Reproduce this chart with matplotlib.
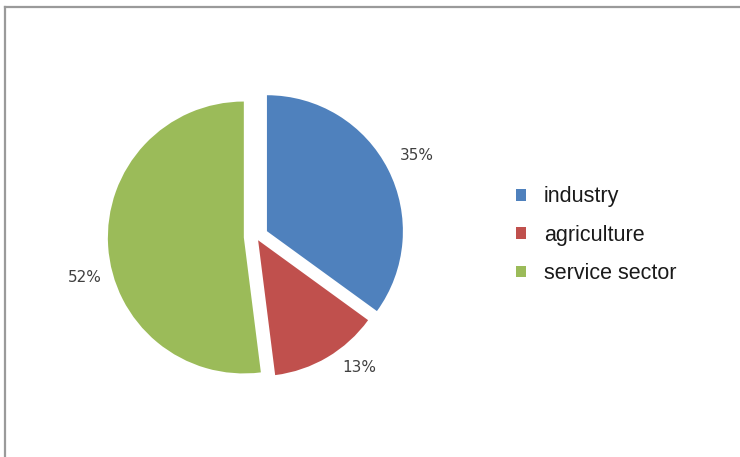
import matplotlib
matplotlib.use("Agg")
import matplotlib.pyplot as plt
from matplotlib.lines import Line2D

# ── Data ────────────────────────────────────────────────────────────────────
SECTORS = ["industry", "agriculture", "service sector"]
SHARES = [35, 13, 52]
COLORS = ["#4F81BD", "#C0504D", "#9BBB59"]
EXPLODE = [0.09, 0.03, 0.09]

# label placement (data units, pie radius = 1)
LABEL_POS = [(1.18, 0.60), (0.76, -0.96), (-1.26, -0.30)]

plt.rcParams["font.family"] = ["Liberation Sans", "DejaVu Sans"]

fig = plt.figure(figsize=(7.4, 4.57), dpi=100)
# axes sized so one data unit ~ 136 px, pie centred near (256, 237) px
ax = fig.add_axes([0.1035, 0.089, 0.485, 0.786])

wedges, _, pcts = ax.pie(
    SHARES,
    colors=COLORS,
    startangle=90,
    counterclock=False,
    explode=EXPLODE,
    autopct="%d%%",
    pctdistance=1.2,
    textprops={"fontsize": 11, "color": "#404040", "family": "DejaVu Sans"},
)
for t, pos in zip(pcts, LABEL_POS):
    t.set_position(pos)
    t.set_ha("center")
    t.set_va("center")

ax.set_xlim(-1.32, 1.32)
ax.set_ylim(-1.32, 1.32)
ax.set_aspect("equal")
ax.axis("off")

fig.legend(
    wedges, SECTORS,
    loc="center left",
    bbox_to_anchor=(0.671, 0.485),
    frameon=False,
    fontsize=15.5,
    handlelength=0.45,
    handleheight=0.45,
    handletextpad=0.85,
    labelspacing=0.81,
    labelcolor="#1a1a1a",
)

# outer chart frame (top and left edges)
fig.add_artist(Line2D([0.0068, 1.0], [0.985, 0.985], transform=fig.transFigure,
                      color="#9a9a9a", linewidth=1.6))
fig.add_artist(Line2D([0.0068, 0.0068], [0.0, 0.985], transform=fig.transFigure,
                      color="#9a9a9a", linewidth=1.6))

fig.savefig("out.png", dpi=100)
